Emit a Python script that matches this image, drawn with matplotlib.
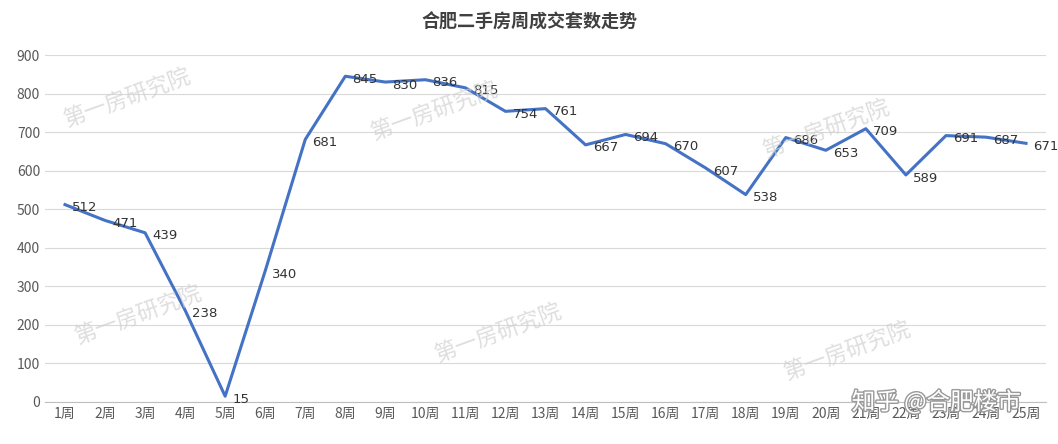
import matplotlib
matplotlib.use("Agg")
import matplotlib.pyplot as plt
import matplotlib.patheffects as pe

plt.rcParams['font.family'] = ['Noto Sans CJK SC', 'DejaVu Sans']

weeks = [f"{i}周" for i in range(1, 26)]
values = [512, 471, 439, 238, 15, 340, 681, 845, 830, 836, 815, 754, 761,
          667, 694, 670, 607, 538, 686, 653, 709, 589, 691, 687, 671]
yticks = list(range(0, 1000, 100))

fig = plt.figure(figsize=(10.58, 4.44), dpi=100)
ax = fig.add_axes([0.0425, 0.0946, 0.9462, 0.7814])
x = list(range(1, 26))
ax.plot(x, values, color='#4472C4', linewidth=2.2, zorder=3)
for xi, v in zip(x, values):
    ax.text(xi + 0.18, v - 8, str(v), fontsize=9.5, color='#333333', va='center', ha='left',
            zorder=4, family=['DejaVu Sans'])

ax.set_xlim(0.5, 25.5)
ax.set_ylim(0, 900)
ax.set_yticks(yticks)
ax.set_xticks(x)
ax.set_xticklabels(weeks)
ax.tick_params(axis='both', length=0, labelsize=10, colors='#595959')
ax.grid(axis='y', color='#D9D9D9', linewidth=0.8)
for s in ['top', 'right', 'left']:
    ax.spines[s].set_visible(False)
ax.spines['bottom'].set_color('#BFBFBF')

fig.text(0.5, 0.95, '合肥二手房周成交套数走势', ha='center', va='center',
         fontsize=13, fontweight='bold', color='#404040')

for (px, py) in [(0.12, 0.78), (0.41, 0.75), (0.78, 0.71), (0.13, 0.29), (0.47, 0.25), (0.80, 0.21)]:
    fig.text(px, py, '第一房研究院', fontsize=16, color='#D0D0D0', rotation=20,
             ha='center', va='center', alpha=0.7)
fig.text(0.885, 0.095, '知乎 @合肥楼市', fontsize=17, color='white', ha='center', va='center',
         path_effects=[pe.withStroke(linewidth=2, foreground='#999999')])

fig.savefig('out.png', dpi=100)
